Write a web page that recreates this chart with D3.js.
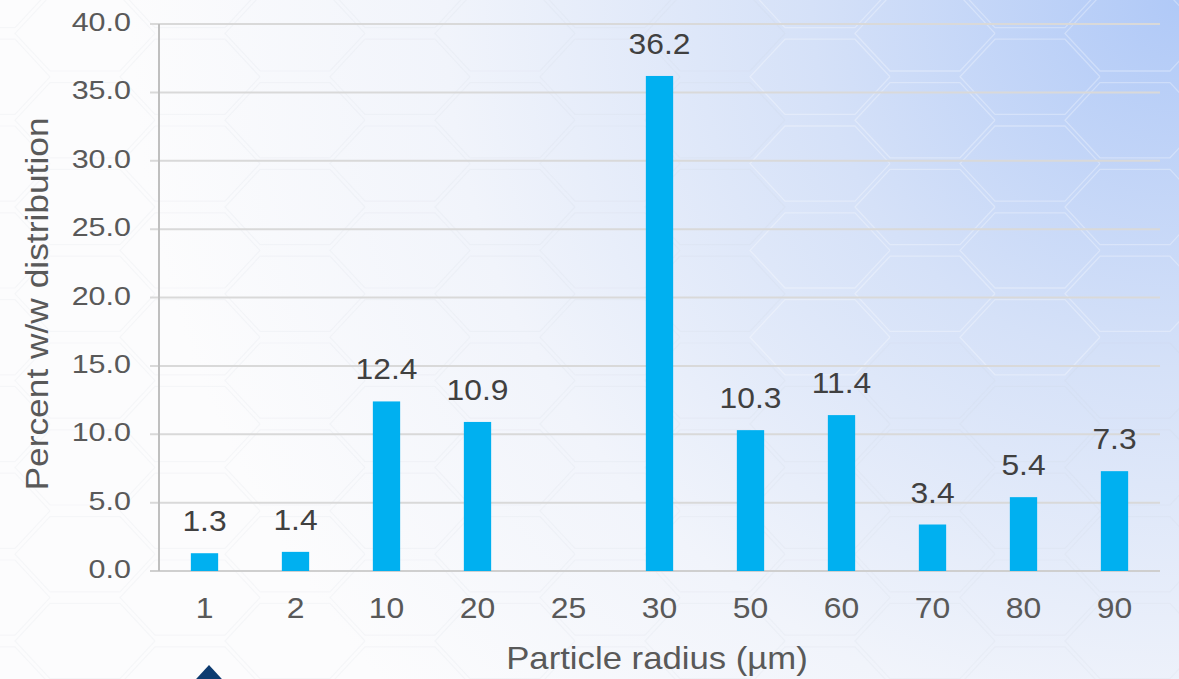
<!DOCTYPE html>
<html>
<head>
<meta charset="utf-8">
<script src="https://cdn.jsdelivr.net/npm/d3@7"></script>
<style>
  html, body { margin: 0; padding: 0; background: #ffffff; }
  svg { display: block; }
  text { font-family: "Liberation Sans", Arial, sans-serif; }
</style>
</head>
<body>
<svg id="chart" width="1179" height="679"></svg>
<script>
// Particle size distribution data
const categories = ["1", "2", "10", "20", "25", "30", "50", "60", "70", "80", "90"];
const percentValues = [1.3, 1.4, 12.4, 10.9, null, 36.2, 10.3, 11.4, 3.4, 5.4, 7.3];
const yTicks = [0, 5, 10, 15, 20, 25, 30, 35, 40];

const W = 1179, H = 679;
const svg = d3.select("#chart");
const defs = svg.append("defs");

// Soft blue wash from the top-right corner
const grad = defs.append("radialGradient")
  .attr("id", "bgWash")
  .attr("gradientUnits", "userSpaceOnUse")
  .attr("cx", W).attr("cy", 0).attr("r", 1050);
grad.append("stop").attr("offset", "0").attr("stop-color", "#b0c9f7");
grad.append("stop").attr("offset", "0.35").attr("stop-color", "#d5e1f8");
grad.append("stop").attr("offset", "0.7").attr("stop-color", "#f1f4fb");
grad.append("stop").attr("offset", "1").attr("stop-color", "#fcfcfd");

svg.append("rect").attr("width", W).attr("height", H).attr("fill", "url(#bgWash)");

// Faint hexagonal backdrop
const hexR = 70;
const hexPath = d3.line()(d3.range(7).map(k => {
  const a = Math.PI / 3 * k;
  return [hexR * Math.cos(a), hexR * 0.62 * Math.sin(a)];
}));
const hexG = svg.append("g")
  .attr("fill", "none")
  .attr("stroke", "#ffffff")
  .attr("stroke-opacity", 0.3)
  .attr("stroke-width", 1.3);
const greyHex = svg.append("g")
  .attr("fill", "none")
  .attr("stroke", "#c8cbd2")
  .attr("stroke-opacity", 0.12)
  .attr("stroke-width", 1.2);
for (let row = -1; row < 14; row++) {
  for (let col = -1; col < 12; col++) {
    const cx = col * hexR * 1.5 - 20;
    const cy = row * hexR * 0.62 * 2 + (col % 2 ? hexR * 0.62 : 0) - 10;
    const g = (cx > 750 && cy < 350) ? hexG : greyHex;
    g.append("path").attr("d", hexPath).attr("transform", `translate(${cx},${cy})`);
  }
}

// Plot area
const plotLeft = 159, plotRight = 1160, plotTop = 24, plotBottom = 571;

const x = d3.scaleBand().domain(categories).range([plotLeft, plotRight]).padding(0);
const y = d3.scaleLinear().domain([0, 40]).range([plotBottom, plotTop]);
const barW = x.bandwidth() * 0.3;

// Text helper with a slightly wide set
function addText(g, txt, tx, ty, opts) {
  const rot = opts.rotate ? ` rotate(${opts.rotate})` : "";
  return g.append("text")
    .attr("transform", `translate(${tx},${ty})${rot} scale(${opts.sx || 1.12},1)`)
    .attr("text-anchor", opts.anchor || "middle")
    .attr("font-size", opts.size)
    .attr("fill", opts.fill || "#595959")
    .text(txt);
}

// Horizontal gridlines with outward ticks
const grid = svg.append("g");
grid.selectAll("line").data(yTicks).join("line")
  .attr("x1", plotLeft - 9).attr("x2", plotRight)
  .attr("y1", d => y(d)).attr("y2", d => y(d))
  .attr("stroke", d => d === 0 ? "#cfcfcf" : "#d9d9d9")
  .attr("stroke-width", 2);

// Vertical axis line
svg.append("line")
  .attr("x1", plotLeft).attr("x2", plotLeft)
  .attr("y1", y(40)).attr("y2", y(0))
  .attr("stroke", "#bfbfbf").attr("stroke-width", 2);

// Y tick labels
const yLab = svg.append("g");
yTicks.forEach(t => addText(yLab, d3.format(".1f")(t), 131, y(t) + 7, { anchor: "end", size: 25, sx: 1.22 }));

// Bars
const barData = categories.map((c, i) => ({ c, v: percentValues[i] })).filter(d => d.v !== null);
svg.append("g").selectAll("rect").data(barData).join("rect")
  .attr("x", d => x(d.c) + x.bandwidth() / 2 - barW / 2)
  .attr("y", d => y(d.v))
  .attr("width", barW)
  .attr("height", d => y(0) - y(d.v))
  .attr("fill", "#00b0f0");

// Value labels
const vLab = svg.append("g");
barData.forEach(d => addText(vLab, d3.format(".1f")(d.v), x(d.c) + x.bandwidth() / 2, y(d.v) - 22,
  { size: 30, fill: "#404040", sx: 1.06 }));

// X tick labels
const xLab = svg.append("g");
categories.forEach(c => addText(xLab, c, x(c) + x.bandwidth() / 2, 618, { size: 29, sx: 1.1 }));

// Axis titles
addText(svg, "Particle radius (µm)", 657, 669, { size: 31, sx: 1.12 });
addText(svg, "Percent w/w distribution", 48, 304, { size: 31, sx: 1.14, rotate: -90 });

// Navy marker at the lower edge
svg.append("path")
  .attr("d", d3.line()([[209, 665], [232, 690], [209, 715], [186, 690]]) + "Z")
  .attr("fill", "#0d3b70");
</script>
</body>
</html>
